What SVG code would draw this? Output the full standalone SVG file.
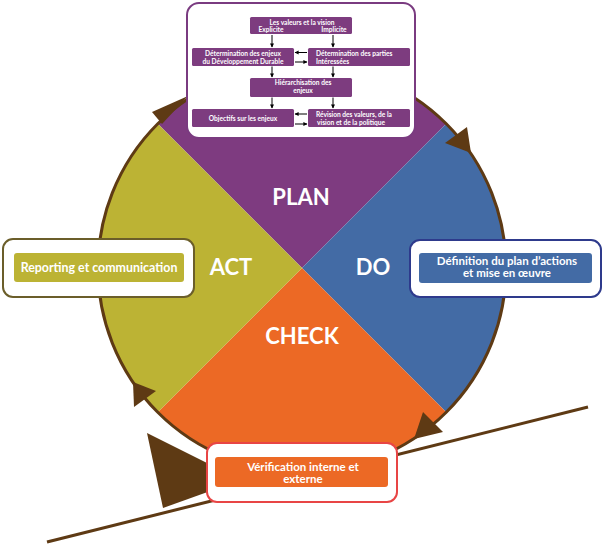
<svg xmlns="http://www.w3.org/2000/svg" width="603" height="546" viewBox="0 0 603 546">
<defs>
<style>
.lbl{font-family:Lato,"Open Sans","DejaVu Sans",sans-serif;font-weight:bold;fill:#fff;text-anchor:middle}
.big{font-size:22px}
.side{font-size:11.5px}
.sm{font-size:6.6px}
.ib{fill:#7D3C7F}
.ar{stroke:#000;stroke-width:1;fill:none;marker-end:url(#ah)}
.brown{fill:#5E3A14}
</style>
<marker id="ah" viewBox="0 0 10 10" refX="9" refY="5" markerWidth="4" markerHeight="4" markerUnits="userSpaceOnUse" orient="auto" overflow="visible">
<path d="M0,0 L10,5 L0,10 Z" fill="#000"/>
</marker>
</defs>
<rect width="603" height="546" fill="#fff"/>
<g id="incline">
<line x1="47" y1="542" x2="588" y2="407" stroke="#5E3A14" stroke-width="3"/>
<polygon class="brown" points="147,433 241,480 163,508"/>
</g>
<g id="wheel">
<path id="plan" d="M302,268 L157.75,123.75 A204,204 0 0 1 446.25,123.75 Z" fill="#7E3B80"/>
<path id="do" d="M302,268 L446.25,123.75 A204,204 0 0 1 446.25,412.25 Z" fill="#436BA5"/>
<path id="check" d="M302,268 L446.25,412.25 A204,204 0 0 1 157.75,412.25 Z" fill="#EC6925"/>
<path id="act" d="M302,268 L157.75,412.25 A204,204 0 0 1 157.75,123.75 Z" fill="#BCB334"/>
<circle cx="302" cy="268" r="204" fill="none" stroke="#5E3A14" stroke-width="3"/>
<polygon class="brown" points="152,112 188,96 162,124"/>
<polygon class="brown" points="445,143 467,127 471,153"/>
<polygon class="brown" points="423,412 443,432 414,439"/>
<polygon class="brown" points="133,382 156,391 134,407"/>
<text class="lbl big" x="301" y="205">PLAN</text>
<text class="lbl big" x="373" y="275">DO</text>
<text class="lbl big" x="231" y="275">ACT</text>
<text class="lbl big" x="302" y="344">CHECK</text>
</g>
<g id="plan-box">
<rect x="187" y="3" width="228" height="135" rx="12" fill="#fff" stroke="#7A3B80" stroke-width="2"/>
</g>
<g id="n1"><rect class="ib" x="250" y="17" width="102" height="17" rx="1.5"/>
<text class="lbl sm" x="302" y="25">Les valeurs et la vision</text>
<text class="lbl sm" x="271" y="32">Explicite</text><text class="lbl sm" x="334" y="32">Implicite</text></g>
<g id="n2"><rect class="ib" x="192" y="48" width="102" height="18" rx="1.5"/>
<text class="lbl sm" x="243" y="55.5">Détermination des enjeux</text>
<text class="lbl sm" x="243" y="63.5">du Développement Durable</text></g>
<g id="n3"><rect class="ib" x="308" y="48" width="102" height="18" rx="1.5"/>
<text class="lbl sm" x="316" y="55.5" style="text-anchor:start">Détermination des parties</text>
<text class="lbl sm" x="316" y="63.5" style="text-anchor:start">Intéressées</text></g>
<g id="n4"><rect class="ib" x="250" y="78" width="102" height="19" rx="1.5"/>
<text class="lbl sm" x="303" y="85">Hiérarchisation des</text>
<text class="lbl sm" x="303" y="93">enjeux</text></g>
<g id="n5"><rect class="ib" x="192" y="109" width="102" height="18" rx="1.5"/>
<text class="lbl sm" x="243" y="120.5">Objectifs sur les enjeux</text></g>
<g id="n6"><rect class="ib" x="308" y="109" width="102" height="18" rx="1.5"/>
<text class="lbl sm" x="354" y="117">Révision des valeurs, de la</text>
<text class="lbl sm" x="351" y="125">vision et de la politique</text></g>
<g id="connectors">
<line class="ar" x1="272" y1="35" x2="272" y2="47"/>
<line class="ar" x1="333" y1="35" x2="333" y2="47"/>
<line class="ar" x1="307" y1="52.5" x2="295" y2="52.5"/>
<line class="ar" x1="295" y1="62" x2="307" y2="62"/>
<line class="ar" x1="272" y1="66.5" x2="272" y2="77"/>
<line class="ar" x1="333" y1="66.5" x2="333" y2="77"/>
<line class="ar" x1="272" y1="97.5" x2="272" y2="108"/>
<line class="ar" x1="333" y1="97.5" x2="333" y2="108"/>
<line class="ar" x1="307" y1="114" x2="295" y2="114"/>
<line class="ar" x1="295" y1="124" x2="307" y2="124"/>
</g>
<g id="act-box">
<rect x="3" y="239" width="191" height="58" rx="10" fill="#fff" stroke="#6B5E2A" stroke-width="2"/>
<rect x="14" y="253" width="170" height="29" rx="3" fill="#BCB334"/>
<text class="lbl side" x="99" y="272" style="font-size:12.4px">Reporting et communication</text>
</g>
<g id="do-box">
<rect x="410" y="240" width="191" height="57" rx="10" fill="#fff" stroke="#2E3A8C" stroke-width="2"/>
<rect x="419" y="253" width="173" height="30" rx="3" fill="#436BA5"/>
<text class="lbl side" x="507" y="265">Définition du plan d’actions</text>
<text class="lbl side" x="507" y="277">et mise en œuvre</text>
</g>
<g id="check-box">
<rect x="207" y="443" width="190" height="59" rx="10" fill="#fff" stroke="#E84545" stroke-width="2"/>
<rect x="215" y="457" width="173" height="30" rx="3" fill="#EC6925"/>
<text class="lbl side" x="303" y="471">Vérification interne et</text>
<text class="lbl side" x="303" y="483">externe</text>
</g>
</svg>
